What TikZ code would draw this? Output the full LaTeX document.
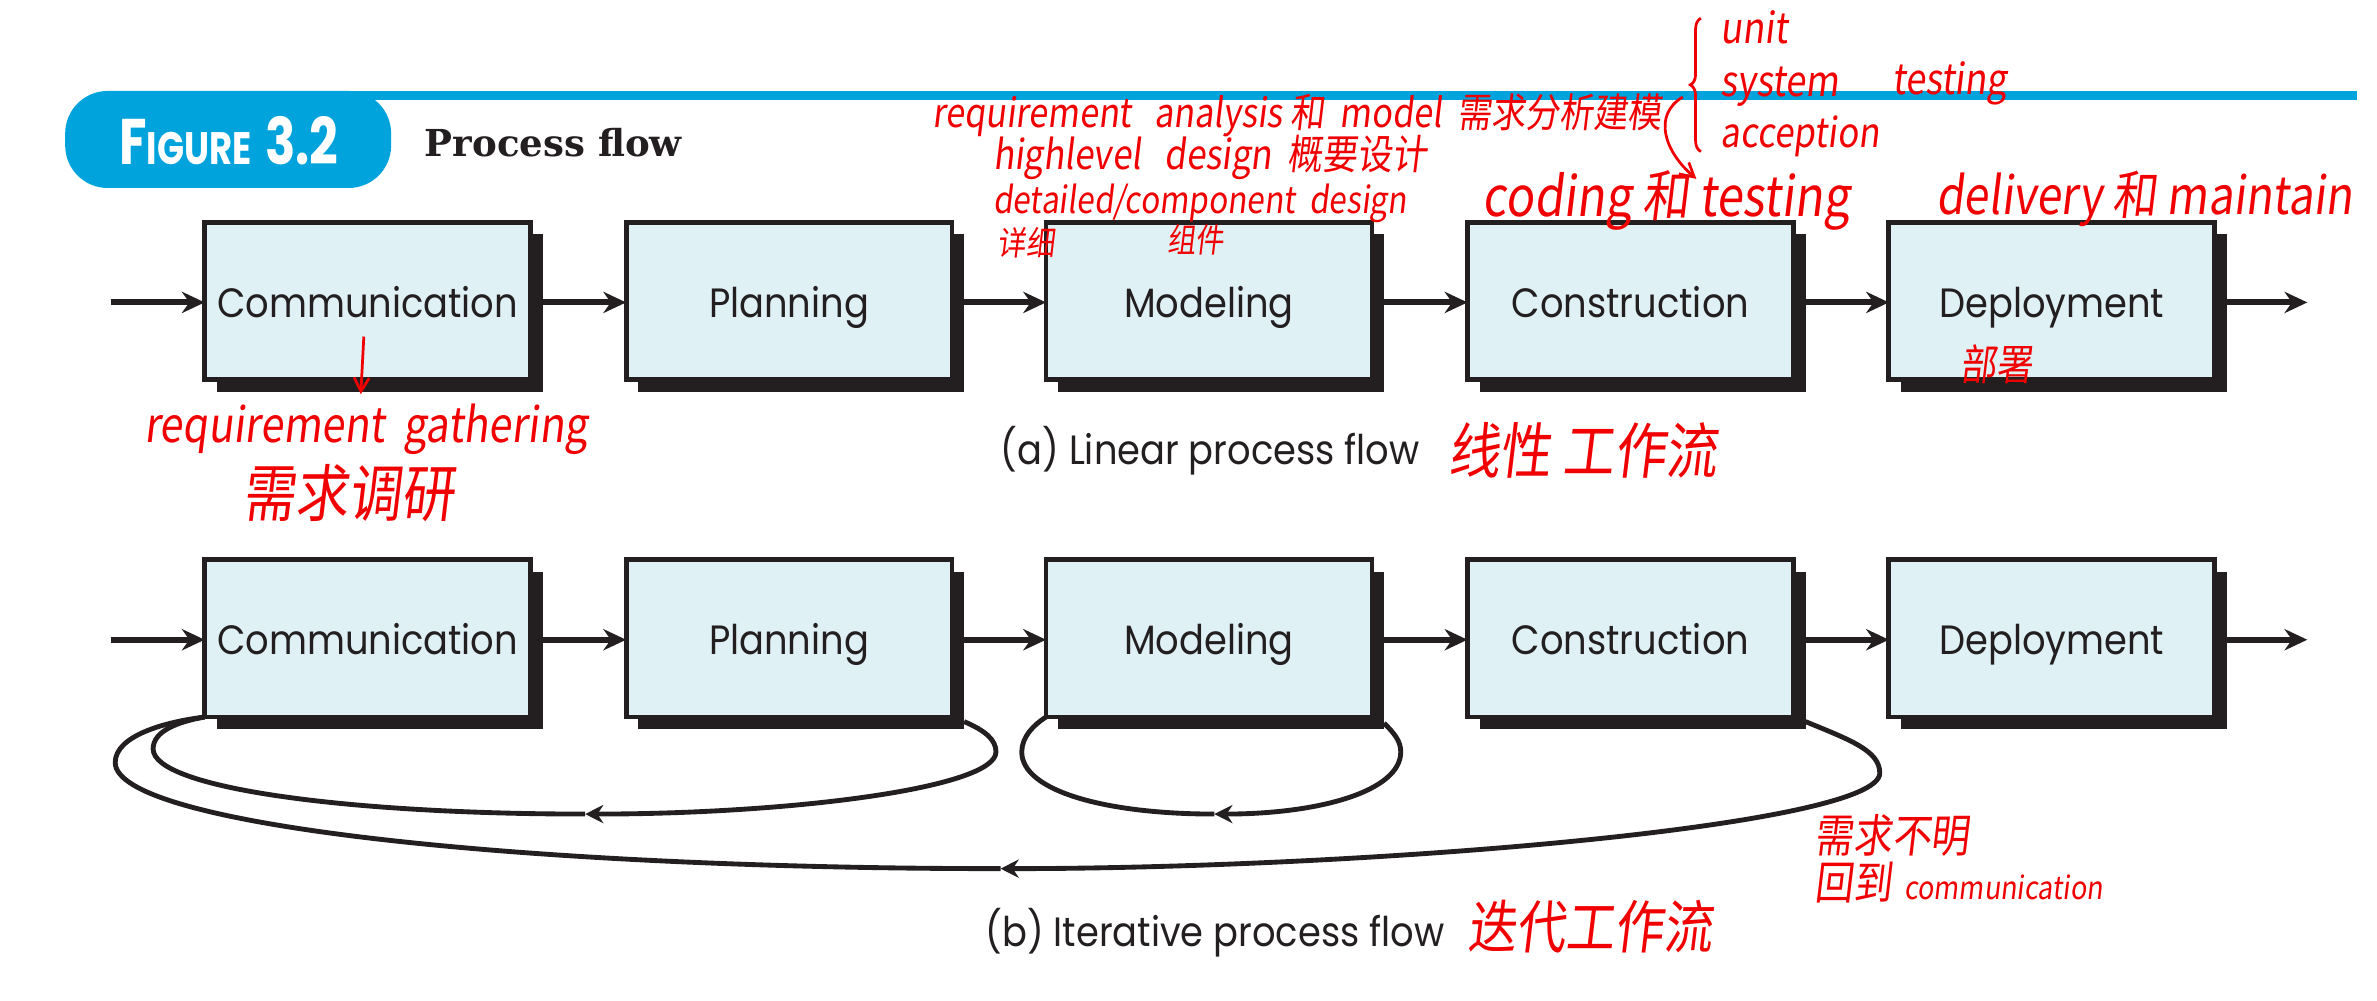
\documentclass[tikz,border=0pt]{standalone}
\usepackage{fontspec}
\usetikzlibrary{arrows.meta,decorations.pathreplacing,shadows}
\newfontfamily\boxfont{Poppins}[FakeStretch=0.9]
\newfontfamily\headfont{Poppins}[FakeStretch=0.78]
\newfontfamily\titlefont{DejaVu Serif}
\newfontfamily\hw{Noto Sans CJK SC}[FakeSlant=0.12,FakeStretch=0.85]
\newcommand\hwf[1]{\hw\fontsize{#1}{#1}\selectfont}
\definecolor{figblue}{RGB}{0,163,220}
\definecolor{boxfill}{RGB}{224,241,246}
\definecolor{ink}{RGB}{35,31,32}
\definecolor{pen}{RGB}{240,0,0}
\tikzset{
  stage/.style={draw=ink, fill=boxfill, line width=3.2pt, minimum width=215pt, minimum height=104pt,
    inner sep=0pt, outer sep=0pt, text=ink, font=\boxfont\fontsize{27}{30}\selectfont,
    text height=30pt, text depth=8pt,
    drop shadow={shadow xshift=8pt, shadow yshift=-8pt, fill=ink, opacity=1}},
  flow/.style={draw=ink, line width=4pt, -{Stealth[length=15pt,width=14pt]}},
  loopline/.style={draw=ink, line width=3.2pt},
  looptip/.style={loopline, -{Stealth[length=12pt,width=12pt]}},
  caption/.style={text=ink, font=\boxfont\fontsize{27}{29}\selectfont, anchor=west, inner sep=0pt},
  note/.style={text=pen, anchor=west, inner sep=0pt},
  penline/.style={draw=pen, line width=1.8pt},
}
\begin{document}
\begin{tikzpicture}[x=1pt,y=-1pt]
\useasboundingbox (0,0) rectangle (1568,660);
% header
\fill[figblue] (200,60) rectangle (1555,66);
\fill[figblue, rounded corners=28pt] (43,60) rectangle (258,124);
\node[text=white, font=\headfont\bfseries, inner sep=0pt] (fig) at (151,93)
  {\fontsize{42.5}{42.5}\selectfont F\fontsize{30}{30}\selectfont IGURE\hspace{9pt}\fontsize{42.5}{42.5}\selectfont 3.2};
\node[text=ink, font=\titlefont\bfseries\fontsize{24.5}{27}\selectfont, anchor=west, inner sep=0pt] (title) at (280,94) {Process flow};

% row 1
\node[stage] (c1) at (242.5,198.5) {Communication};
\node[stage] (p1) at (520.5,198.5) {Planning};
\node[stage] (m1) at (797.5,198.5) {Modeling};
\node[stage] (k1) at (1075.5,198.5) {Construction};
\node[stage] (d1) at (1353.5,198.5) {Deployment};
\coordinate (in1) at (73,199.5);
\coordinate (out1) at (1522,199.5);
\draw[flow] (in1) -- ([yshift=-1pt]c1.west);
\draw[flow] ([shift={(8,1)}]c1.east) -- ([yshift=-1pt]p1.west);
\draw[flow] ([shift={(8,1)}]p1.east) -- ([yshift=-1pt]m1.west);
\draw[flow] ([shift={(8,1)}]m1.east) -- ([yshift=-1pt]k1.west);
\draw[flow] ([shift={(8,1)}]k1.east) -- ([yshift=-1pt]d1.west);
\draw[flow] ([shift={(8,1)}]d1.east) -- (out1);
\node[caption] (capa) at (660,297) {(a) Linear process flow};

% row 2
\node[stage] (c2) at (242.5,421) {Communication};
\node[stage] (p2) at (520.5,421) {Planning};
\node[stage] (m2) at (797.5,421) {Modeling};
\node[stage] (k2) at (1075.5,421) {Construction};
\node[stage] (d2) at (1353.5,421) {Deployment};
\coordinate (in2) at (73,422);
\coordinate (out2) at (1522,422);
\draw[flow] (in2) -- ([yshift=-1pt]c2.west);
\draw[flow] ([shift={(8,1)}]c2.east) -- ([yshift=-1pt]p2.west);
\draw[flow] ([shift={(8,1)}]p2.east) -- ([yshift=-1pt]m2.west);
\draw[flow] ([shift={(8,1)}]m2.east) -- ([yshift=-1pt]k2.west);
\draw[flow] ([shift={(8,1)}]k2.east) -- ([yshift=-1pt]d2.west);
\draw[flow] ([shift={(8,1)}]d2.east) -- (out2);
\node[caption] (capb) at (650,615) {(b) Iterative process flow};

% loops
\coordinate (pa) at (386,537);
\coordinate (pc) at (801,537);
\coordinate (pb) at (660,573);
\draw[looptip] ([shift={(8,3)}]p2.south east) .. controls (650,482) and (657,488) .. (657,496)
  .. controls (657,520) and (520,537) .. (pa);
\draw[loopline] (pa) .. controls (230,537) and (101,520) .. (101,494)
  .. controls (101,482) and (118,476) .. (c2.south west);
\draw[looptip] ([shift={(8,4)}]m2.south east) .. controls (920,484) and (924,489) .. (924,496)
  .. controls (924,522) and (870,537) .. (pc);
\draw[loopline] (pc) .. controls (730,537) and (674,522) .. (674,496)
  .. controls (674,486) and (682,478) .. (m2.south west);
\draw[looptip] ([shift={(8,3)}]k2.south east) .. controls (1220,488) and (1240,495) .. (1240,510)
  .. controls (1240,545) and (900,573) .. (pb);
\draw[loopline] (pb) .. controls (350,573) and (76,545) .. (76,503)
  .. controls (76,485) and (110,476) .. (c2.south west);

% handwritten notes
\node[note, font=\hwf{26.5}] (n1) at (615,76) {requirement\ \ \ analysis 和\ \ model\ \ 需求分析建模};
\node[note, font=\hwf{27}] (n2) at (655,104) {highlevel\ \ \ design\ \ 概要设计};
\node[note, font=\hwf{24.5}] (n3) at (655,134) {detailed/component\ \ design};
\node[note, font=\hwf{22}] (n4) at (658,160) {详细};
\node[note, font=\hwf{22}] (n5) at (770,158) {组件};
\node[note, font=\hwf{36.5}] (n6) at (978,132) {coding 和 testing};
\node[note, font=\hwf{34.5}] (n7) at (1277,131) {delivery 和 maintain};
\node[note, font=\hwf{28}] (n8) at (1135,18) {unit};
\node[note, font=\hwf{28}] (n9) at (1135,57) {system};
\node[note, font=\hwf{28}] (n10) at (1248,55) {testing};
\node[note, font=\hwf{27}] (n11) at (1135,90) {acception};
\node[note, font=\hwf{28}] (n12) at (1293,240) {部署};
\node[note, font=\hwf{32}] (n13) at (95,283) {requirement\ \ gathering};
\node[note, font=\hwf{41}] (n14) at (160,325) {需求调研};
\node[note, font=\hwf{40}] (n15) at (955,297) {线性 工作流};
\node[note, font=\hwf{38}] (n16) at (968,611) {迭代工作流};
\node[note, font=\hwf{30}] (n17) at (1197,551) {需求不明};
\node[note] (n18) at (1197,582) {\hwf{30}回到\hspace{8pt}\hwf{21}communication};
\draw[penline, decorate, decoration={brace, amplitude=7pt}] (1122,100) -- (1122,12);
\coordinate (ra) at (240,222);
\coordinate (rb) at (238,260);
\draw[penline, -{Straight Barb[length=9pt,width=10pt]}] (ra) -- (rb);
\coordinate (bs) at (1110,64);
\coordinate (be) at (1119,118);
\draw[penline, -{Straight Barb[length=9pt,width=10pt]}] (bs) .. controls (1090,76) and (1098,100) .. (be);
\end{tikzpicture}
\end{document}
